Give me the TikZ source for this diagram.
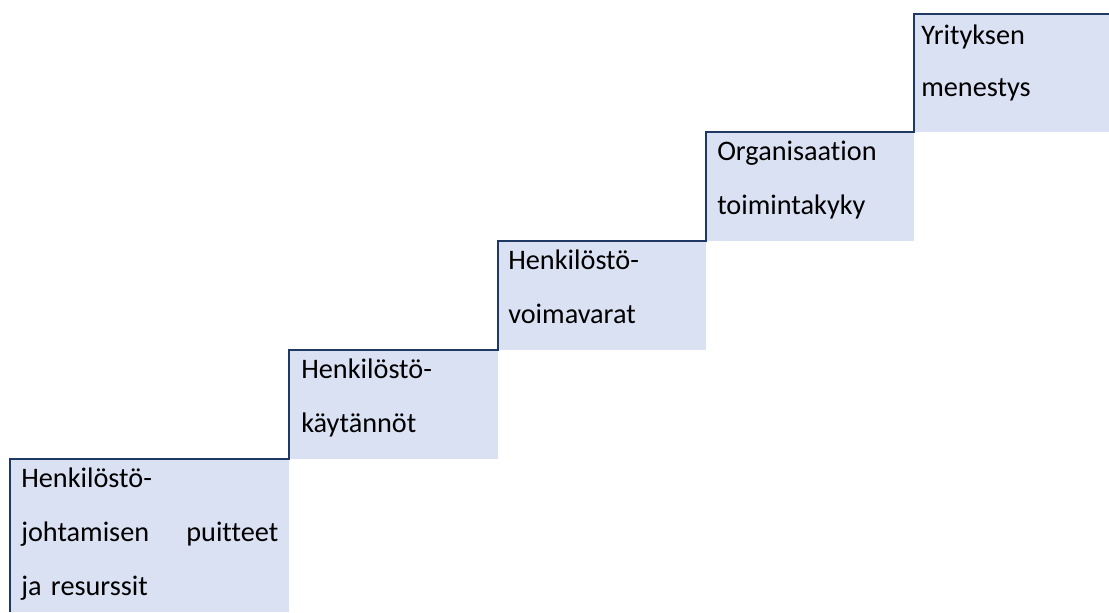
\documentclass[tikz,border=0pt]{standalone}
\usepackage{fontspec}
\setmainfont{Carlito}[Ligatures=NoCommon]
\usetikzlibrary{positioning}
\definecolor{stepfill}{HTML}{DAE1F3}
\definecolor{stairline}{HTML}{1F3864}
\begin{document}
\begin{tikzpicture}[
    x=0.75pt, y=0.75pt,
    stepbox/.style={fill=stepfill, inner sep=0, outer sep=0, anchor=south west},
    steptext/.style={inner sep=0, align=left, text width=140pt, font=\fontsize{21.2}{40.5}\selectfont},
    stair/.style={draw=stairline, line width=1.5pt}
]
    \useasboundingbox (0,0) rectangle (1109,612);

    % Steps
    \node[stepbox, minimum width=209.25pt, minimum height=114.75pt] (s1) at (10,0) {};
    \node[stepbox, minimum width=156.75pt, minimum height=81.75pt] (s2) at (289,153) {};
    \node[stepbox, minimum width=156pt, minimum height=81.75pt] (s3) at (498,262) {};
    \node[stepbox, minimum width=156pt, minimum height=81.75pt] (s4) at (706,371) {};
    \node[stepbox, minimum width=146.25pt, minimum height=88.5pt] (s5) at (914,480) {};

    % Stair line
    \draw[stair] (s1.south west) -- (s1.north west) -- (s2.south west) -- (s2.north west)
        -- (s3.south west) -- (s3.north west) -- (s4.south west) -- (s4.north west)
        -- (s5.south west) -- (s5.north west) -- (s5.north east);

    % Texts
    \node[steptext, text width=192.75pt, below right=21pt and 8.25pt of s1.north west, anchor=base west] (t1)
        {Henkilöstö-\\johtamisen\hfill puitteet\\ja resurssit};
    \node[steptext, below right=21pt and 9pt of s2.north west, anchor=base west] (t2) {Henkilöstö-\\käytännöt};
    \node[steptext, below right=21pt and 7.5pt of s3.north west, anchor=base west] (t3) {Henkilöstö-\\voimavarat};
    \node[steptext, below right=21.5pt and 8.25pt of s4.north west, anchor=base west] (t4) {Organisaation\\toimintakyky};
    \node[steptext, font=\fontsize{21.2}{39}\selectfont, below right=23.25pt and 5.25pt of s5.north west, anchor=base west] (t5) {Yrityksen\\menestys};
\end{tikzpicture}
\end{document}
